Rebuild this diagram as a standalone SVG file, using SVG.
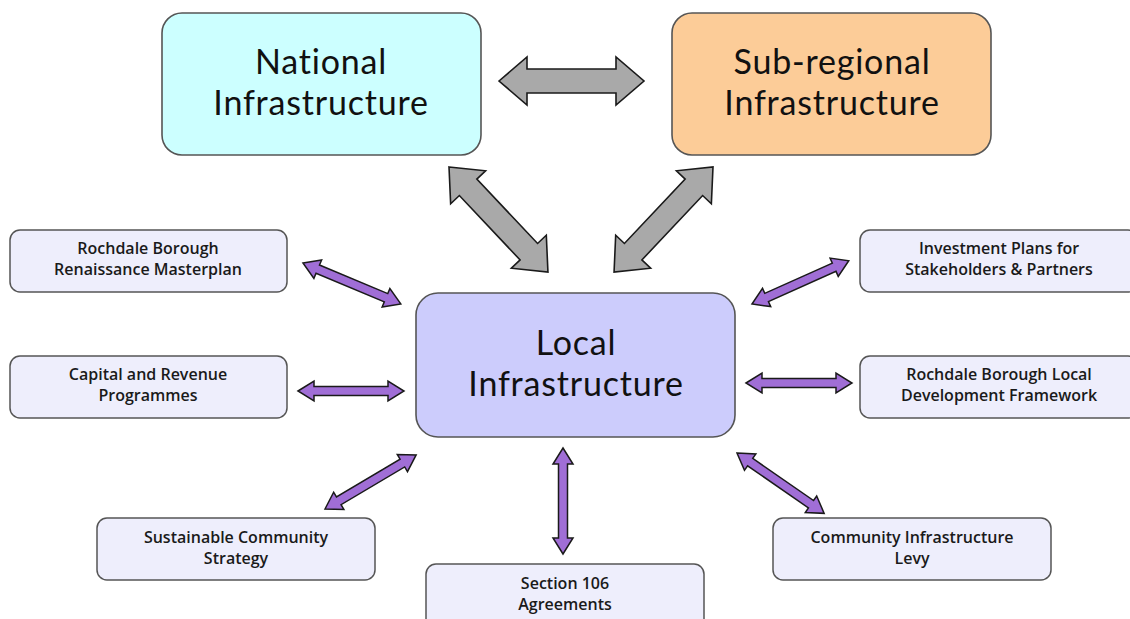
<svg xmlns="http://www.w3.org/2000/svg" xmlns:xlink="http://www.w3.org/1999/xlink" width="1130" height="619" viewBox="0 0 1130 619">
  <style>
    .big { stroke: #555; stroke-width: 1.6; }
    .small { fill: #eeeefc; stroke: #555; stroke-width: 1.5; }
    .bt { font-family: Lato, "Open Sans", "DejaVu Sans", sans-serif; font-size: 34px; letter-spacing: 0.8px; fill: #111; text-anchor: middle; }
    .st { font-family: "Open Sans", "DejaVu Sans", sans-serif; font-size: 16px; font-weight: 600; fill: #1a1a1a; text-anchor: middle; }
    .garrow { fill: #a9a9a9; stroke: #1a1a1a; stroke-width: 1.6; stroke-linejoin: miter; }
    .parrow { fill: #a06ed6; stroke: #1a1a1a; stroke-width: 1.5; stroke-linejoin: miter; }
  </style>
  <defs>
    <path id="gdbl" d="M0,0 L28,-24 L28,-12 L117,-12 L117,-24 L145,0 L117,24 L117,12 L28,12 L28,24 Z"/>
    <path id="pdbl" d="M0,0 L16,-10 L16,-4.5 L90,-4.5 L90,-10 L106,0 L90,10 L90,4.5 L16,4.5 L16,10 Z"/>
  </defs>
  <rect width="1130" height="619" fill="#ffffff"/>

  <g id="connectors">
    <use xlink:href="#gdbl" class="garrow" transform="translate(499,81)"/>
    <use xlink:href="#gdbl" class="garrow" transform="translate(449,167) rotate(46.7) scale(0.995,1)"/>
    <use xlink:href="#gdbl" class="garrow" transform="translate(713,167) rotate(133.3) scale(0.995,1)"/>
    <use xlink:href="#pdbl" class="parrow" transform="translate(303,263) rotate(22.7)"/>
    <use xlink:href="#pdbl" class="parrow" transform="translate(298,391)"/>
    <use xlink:href="#pdbl" class="parrow" transform="translate(752,304) rotate(-24.1)"/>
    <use xlink:href="#pdbl" class="parrow" transform="translate(746,383)"/>
    <use xlink:href="#pdbl" class="parrow" transform="translate(325,509) rotate(-30.7)"/>
    <use xlink:href="#pdbl" class="parrow" transform="translate(563,448) rotate(90)"/>
    <use xlink:href="#pdbl" class="parrow" transform="translate(737,453) rotate(34.7)"/>
  </g>

  <g id="national">
    <rect class="big" x="162" y="13" width="319" height="142" rx="20" fill="#ccffff"/>
    <text class="bt" x="321" y="74">National</text>
    <text class="bt" x="321" y="115">Infrastructure</text>
  </g>
  <g id="subregional">
    <rect class="big" x="672" y="13" width="319" height="142" rx="20" fill="#fccc98"/>
    <text class="bt" x="832" y="74">Sub-regional</text>
    <text class="bt" x="832" y="115">Infrastructure</text>
  </g>
  <g id="local">
    <rect class="big" x="416" y="293" width="319" height="144" rx="22" fill="#ccccfc"/>
    <text class="bt" x="576" y="355">Local</text>
    <text class="bt" x="576" y="396">Infrastructure</text>
  </g>

  <g id="renaissance">
    <rect class="small" x="10" y="230" width="277" height="62" rx="10"/>
    <text class="st" x="148" y="254">Rochdale Borough</text>
    <text class="st" x="148" y="275">Renaissance Masterplan</text>
  </g>
  <g id="capital">
    <rect class="small" x="10" y="356" width="277" height="62" rx="10"/>
    <text class="st" x="148" y="380">Capital and Revenue</text>
    <text class="st" x="148" y="401">Programmes</text>
  </g>
  <g id="investment">
    <rect class="small" x="860" y="230" width="278" height="62" rx="10"/>
    <text class="st" x="999" y="254">Investment Plans for</text>
    <text class="st" x="999" y="275">Stakeholders &amp; Partners</text>
  </g>
  <g id="ldf">
    <rect class="small" x="860" y="356" width="278" height="62" rx="10"/>
    <text class="st" x="999" y="380">Rochdale Borough Local</text>
    <text class="st" x="999" y="401">Development Framework</text>
  </g>
  <g id="scs">
    <rect class="small" x="97" y="518" width="278" height="62" rx="10"/>
    <text class="st" x="236" y="543">Sustainable Community</text>
    <text class="st" x="236" y="564">Strategy</text>
  </g>
  <g id="s106">
    <rect class="small" x="426" y="564" width="278" height="70" rx="10"/>
    <text class="st" x="565" y="589">Section 106</text>
    <text class="st" x="565" y="610">Agreements</text>
  </g>
  <g id="cil">
    <rect class="small" x="773" y="518" width="278" height="62" rx="10"/>
    <text class="st" x="912" y="543">Community Infrastructure</text>
    <text class="st" x="912" y="564">Levy</text>
  </g>
</svg>
